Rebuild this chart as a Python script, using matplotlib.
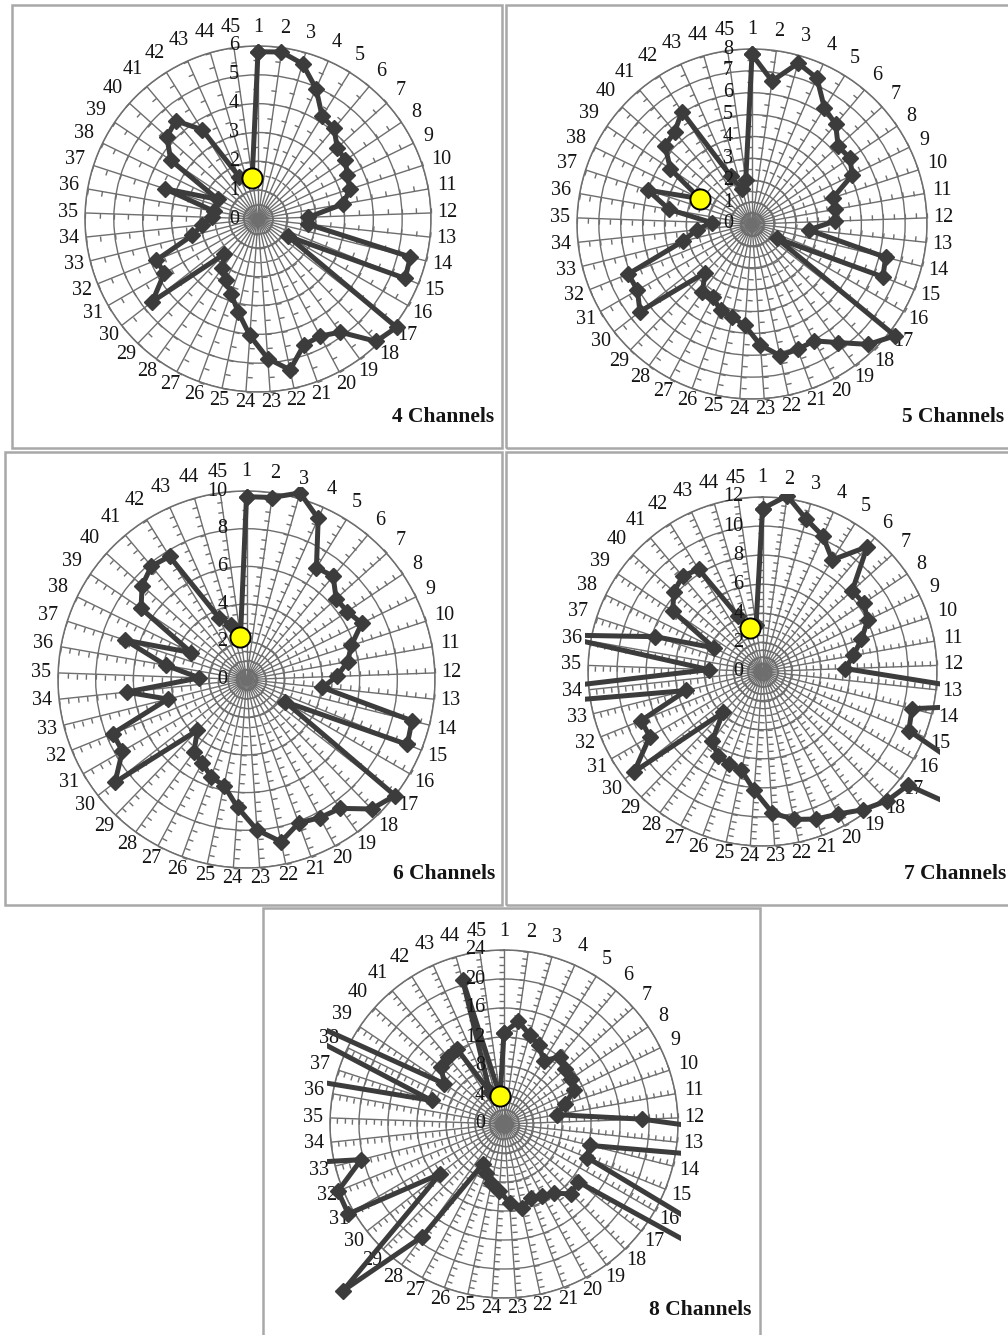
import numpy as np
import matplotlib
matplotlib.use("Agg")
import matplotlib.pyplot as plt
from matplotlib.markers import MarkerStyle
from matplotlib.path import Path
from matplotlib.patches import Rectangle
from matplotlib.transforms import Affine2D

# ---------------------------------------------------------------- data
categories = [str(i) for i in range(1, 46)]

ch4 = [5.8, 5.85, 5.6, 4.95, 4.2, 4.1, 3.7, 3.65, 3.45, 3.35,
       3.0, 1.75, 1.75, 5.45, 5.5, 1.2, 6.1, 5.9, 4.85, 4.6,
       4.65, 5.35, 4.85, 4.05, 3.3, 2.75, 2.4, 2.1, 1.7, 4.65,
       3.75, 3.8, 2.35, 1.95, 1.6, 1.55, 3.4, 1.55, 3.65, 4.25,
       4.45, 3.65, 1.6, 1.5, 1.45]

ch5 = [7.75, 6.6, 7.65, 7.3, 6.25, 5.95, 5.3, 5.4, 5.1, 3.9,
       3.85, 3.8, 2.6, 6.3, 6.45, 1.3, 8.3, 7.65, 6.7, 6.05,
       6.1, 6.15, 5.55, 4.65, 4.35, 4.2, 3.8, 3.85, 3.1, 6.5,
       6.05, 6.1, 3.25, 2.55, 1.85, 3.85, 5.0, 2.65, 4.5, 5.35,
       5.5, 6.05, 2.4, 1.65, 2.05]

ch6 = [9.7, 9.75, 10.3, 9.35, 7.0, 7.15, 6.4, 6.45, 6.8, 5.85,
       5.45, 4.8, 4.05, 9.05, 9.2, 2.35, 10.0, 9.55, 8.45, 8.3,
       8.1, 8.8, 8.0, 6.8, 5.75, 5.5, 5.0, 4.75, 3.75, 8.85,
       7.6, 7.65, 4.3, 6.4, 2.5, 4.35, 6.75, 3.25, 6.75, 7.45,
       7.85, 7.7, 3.6, 3.0, 2.3]

ch7 = [11.2, 12.2, 10.9, 10.2, 9.05, 11.2, 8.3, 8.4, 8.05, 7.15,
       6.35, 5.7, 20, 10.6, 10.85, 30, 12.7, 12.35, 11.75, 11.1,
       10.8, 10.4, 9.75, 8.2, 6.95, 6.75, 6.55, 5.9, 3.9, 11.2,
       8.95, 9.0, 5.4, 45, 3.7, 14.5, 7.75, 3.7, 7.45, 8.2,
       8.55, 8.3, 4.2, 3.1, 3.2]

ch8 = [12.6, 14.3, 12.8, 11.9, 10.3, 12.1, 11.3, 11.1, 10.7, 8.9,
       7.4, 19.1, 100, 12.2, 12.4, 100, 12.9, 13.4, 11.8, 11.2,
       10.9, 11.9, 10.9, 9.2, 8.3, 7.2, 6.3, 19.2, 32, 11.2,
       24.8, 24.7, 20.3, 80, 100, 150, 10.5, 60, 9.9, 11.7,
       12.0, 12.2, 4.8, 20.7, 3.85]

panel_titles = ["4 Channels", "5 Channels", "6 Channels", "7 Channels", "8 Channels"]
series = [ch4, ch5, ch6, ch7, ch8]
axis_max = [6, 8, 10, 12, 24]
major_unit = [1, 1, 2, 2, 4]
minor_unit = [0.5, 0.5, 0.5, 0.5, 1]
highlight_category = [45, 38, 45, 44, 45]

# ---------------------------------------------------------------- layout (pixels)
W, H, DPI = 1008, 1335, 100
PT = 72.0 / DPI  # points per pixel

layout = [
    dict(center=(258, 219), radius=173, box=(12, 5, 502, 448),
         title=(494, 417, "right")),
    dict(center=(752, 224), radius=175, box=(506, 5, 1012, 448),
         title=(1004, 417, "right")),
    dict(center=(246.5, 679.5), radius=188.5, box=(5, 452, 502, 905),
         title=(495, 874, "right")),
    dict(center=(762.5, 671.5), radius=174.5, box=(506, 452, 1012, 905),
         title=(904, 874, "left")),
    dict(center=(504, 1124), radius=174, box=(263, 908, 760, 1340),
         title=(751, 1310, "right")),
]

GRID = "#6e6e6e"
LINE = "#3c3c3c"
TEXT = "#141414"
LABEL_SIZE = 14.5
plt.rcParams["font.family"] = ["Liberation Serif", "DejaVu Serif"]

fig = plt.figure(figsize=(W / DPI, H / DPI), dpi=DPI)
fig.patch.set_facecolor("white")

theta_deg = np.arange(len(categories)) * 360.0 / len(categories)
theta = np.deg2rad(theta_deg)

for vals, title, rmax, major, minor, hl, lay in zip(
        series, panel_titles, axis_max, major_unit, minor_unit,
        highlight_category, layout):
    x0, y0, x1, y1 = lay["box"]
    fig.add_artist(Rectangle((x0 / W, 1 - y1 / H), (x1 - x0) / W, (y1 - y0) / H,
                             transform=fig.transFigure, fill=False,
                             edgecolor="#a8a8a8", lw=1.8))

    cx, cy = lay["center"]
    R = lay["radius"]
    ax = fig.add_axes([(cx - R) / W, 1 - (cy + R) / H, 2 * R / W, 2 * R / H],
                      projection="polar")
    ax.set_theta_zero_location("N")
    ax.set_theta_direction(-1)
    ax.set_ylim(0, rmax)
    ax.set_xticks(theta)
    ax.set_xticklabels([])
    ax.set_yticks(np.arange(major, rmax + major / 2, major))
    ax.set_yticklabels([])
    ax.tick_params(length=0)
    ax.grid(True, color=GRID, lw=1.0)
    ax.spines["polar"].set_color(GRID)
    ax.spines["polar"].set_linewidth(1.1)

    # minor tick marks along every spoke, on its counter-clockwise side
    tick_r = np.arange(minor, rmax + minor / 2, minor)
    for td, t in zip(theta_deg, theta):
        mk = MarkerStyle(Path([(0, 0), (0, 1)]),
                         transform=Affine2D().rotate_deg(90 - td))
        ax.plot(np.full(tick_r.size, t), tick_r, ls="none", marker=mk,
                ms=7.5, mec=GRID, mew=1.0, zorder=2, clip_on=False)

    # data polygon, clipped to a rectangular plot area
    v = np.asarray(vals, dtype=float)
    line, = ax.plot(np.append(theta, theta[0]), np.append(v, v[0]),
                    color=LINE, lw=3.6, marker="D", ms=8, mfc=LINE, mec=LINE,
                    zorder=5)
    line.set_clip_path(Rectangle((-0.01, -0.01), 1.02, 1.02,
                                 transform=ax.transAxes))

    k = hl - 1
    ax.plot([theta[k]], [v[k]], ls="none", marker="o", ms=14.5,
            mfc="#FFFF00", mec="black", mew=1.4, zorder=7, clip_on=False)

    # value axis labels beside the first spoke
    for val in np.arange(0, rmax + major / 2, major):
        ax.annotate(f"{val:g}", xy=(0, val), xytext=(-19 * PT, 0),
                    textcoords="offset points", ha="right", va="center",
                    fontsize=LABEL_SIZE, color=TEXT, annotation_clip=False,
                    zorder=8)

    # category labels around the rim
    for lab, td, t in zip(categories, theta_deg, theta):
        s, c = np.sin(t), np.cos(t)
        w = 10.3 * len(lab)
        d = 6 + 0.5 * w * abs(s) + (13 if c > 0 else 4) * abs(c)
        ax.annotate(lab, xy=(t, rmax), xytext=(d * s * PT, d * c * PT),
                    textcoords="offset points", ha="center", va="center",
                    fontsize=LABEL_SIZE, color=TEXT, annotation_clip=False)

    tx, ty, tha = lay["title"]
    fig.text(tx / W, 1 - ty / H, title, ha=tha, va="center", fontsize=15.5,
             fontweight="bold", color=TEXT)

fig.savefig("out.png", dpi=DPI, facecolor="white")
